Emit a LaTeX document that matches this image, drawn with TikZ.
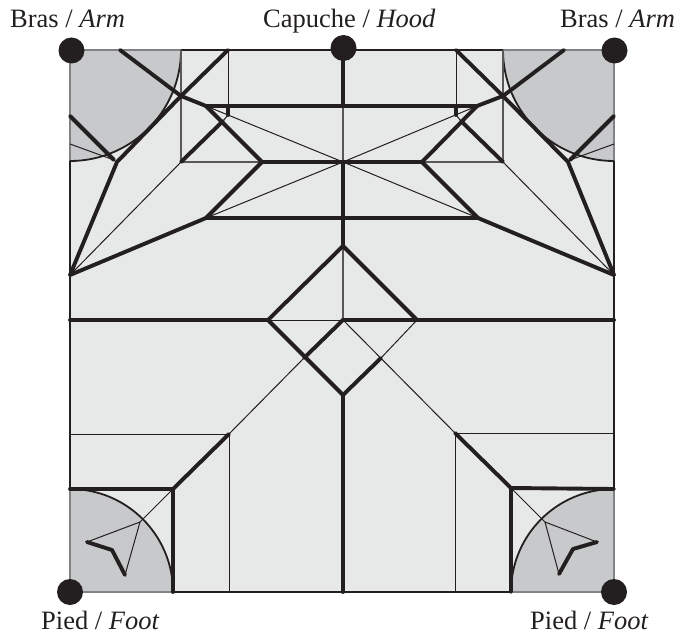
\documentclass[tikz,border=0pt]{standalone}
\usepackage{fontspec}
\setmainfont{Liberation Serif}
\definecolor{inkc}{HTML}{231F20}
\definecolor{paperc}{HTML}{E7E8E8}
\definecolor{cornerc}{HTML}{C8C9CB}
\definecolor{edgec}{HTML}{808285}
\tikzset{
  thickfold/.style={draw=inkc, line width=3.9pt, line cap=round, line join=round},
  thinfold/.style={draw=inkc, line width=1pt},
  greyfold/.style={draw=inkc!75, line width=1.4pt},
  outline/.style={draw=inkc, line width=2.2pt},
  greyedge/.style={draw=edgec, line width=2.4pt},
  cornerarc/.style={draw=inkc, line width=1.8pt},
  pin/.style={circle, fill=inkc, inner sep=0pt, minimum size=26pt},
  caption/.style={inner sep=0pt, anchor=base west, font=\fontsize{26.5}{30}\selectfont, text=inkc},
}
\begin{document}
\begin{tikzpicture}[x=1pt, y=-1pt]
\useasboundingbox (0,0) rectangle (691,634);
\coordinate (vid0) at (70,50);
\coordinate (vid1) at (614,50);
\coordinate (vid2) at (614,592);
\coordinate (vid3) at (70,592);
\coordinate (vid4) at (181,50);
\coordinate (vid5) at (503,50);
\coordinate (vid6) at (70,161);
\coordinate (vid7) at (614,161);
\coordinate (vid8) at (70,489);
\coordinate (vid9) at (173,592);
\coordinate (vid10) at (614,489);
\coordinate (vid11) at (511,592);
\fill[paperc] (vid0) rectangle (vid2);
\fill[cornerc] (vid0) -- (vid4) arc[start angle=0, end angle=90, radius=111] -- cycle;
\fill[cornerc] (vid1) -- (vid5) arc[start angle=180, end angle=90, radius=111] -- cycle;
\fill[cornerc] (vid3) -- (vid9) arc[start angle=0, end angle=-90, radius=103] -- cycle;
\fill[cornerc] (vid2) -- (vid11) arc[start angle=180, end angle=270, radius=103] -- cycle;
\draw[greyedge] (vid6) -- (vid0) -- (vid4);
\draw[greyedge] (vid5) -- (vid1) -- (vid7);
\draw[greyedge] (vid8) -- (vid3) -- (vid9);
\draw[greyedge] (vid11) -- (vid2) -- (vid10);
\draw[outline] (vid4) -- (vid5);
\draw[outline] (vid6) -- (vid8);
\draw[outline] (vid7) -- (vid10);
\draw[outline] (vid9) -- (vid11);
\draw[cornerarc] (vid4) arc[start angle=0, end angle=90, radius=111];
\draw[cornerarc] (vid5) arc[start angle=180, end angle=90, radius=111];
\draw[cornerarc] (vid9) arc[start angle=0, end angle=-90, radius=103];
\draw[cornerarc] (vid11) arc[start angle=180, end angle=270, radius=103];
\coordinate (tid0) at (120,50);
\coordinate (tid1) at (228,50);
\coordinate (tid2) at (181,96);
\coordinate (tid3) at (206,106);
\coordinate (tid4) at (117,162);
\coordinate (tid5) at (70,275);
\coordinate (tid6) at (70,116);
\coordinate (tid7) at (70,144);
\coordinate (tid8) at (114,160);
\coordinate (tid9) at (228,106);
\coordinate (tid10) at (228,115);
\coordinate (tid11) at (181,162);
\coordinate (tid12) at (223,121);
\coordinate (tid13) at (262,162);
\coordinate (tid14) at (206,218);
\draw[thinfold](tid1) -- (tid10);
\draw[greyfold](vid4) -- (tid11);
\draw[greyfold](tid11) -- (tid13);
\draw[thinfold](tid5) -- (tid11);
\draw[thinfold](tid7) -- (tid8);
\draw[thinfold](tid12) -- (tid10);
\draw[thickfold](tid0) -- (tid2) -- (tid3);
\draw[thickfold](tid1) -- (tid2) -- (tid4) -- (tid5);
\draw[thickfold](tid6) -- (tid8);
\draw[thickfold](tid9) -- (tid10);
\draw[thickfold](tid11) -- (tid12);
\draw[thickfold](tid3) -- (tid13) -- (tid14) -- (tid5);
\coordinate (rid0) at (564,50);
\coordinate (rid1) at (456,50);
\coordinate (rid2) at (503,96);
\coordinate (rid3) at (477,106);
\coordinate (rid4) at (568,162);
\coordinate (rid5) at (614,275);
\coordinate (rid6) at (614,116);
\coordinate (rid7) at (614,144);
\coordinate (rid8) at (570,160);
\coordinate (rid9) at (456,106);
\coordinate (rid10) at (456,115);
\coordinate (rid11) at (503,162);
\coordinate (rid12) at (461,121);
\coordinate (rid13) at (422,162);
\coordinate (rid14) at (478,218);
\draw[thinfold](rid1) -- (rid10);
\draw[greyfold](vid5) -- (rid11);
\draw[greyfold](rid11) -- (rid13);
\draw[thinfold](rid5) -- (rid11);
\draw[thinfold](rid7) -- (rid8);
\draw[thinfold](rid12) -- (rid10);
\draw[thickfold](rid0) -- (rid2) -- (rid3);
\draw[thickfold](rid1) -- (rid2) -- (rid4) -- (rid5);
\draw[thickfold](rid6) -- (rid8);
\draw[thickfold](rid9) -- (rid10);
\draw[thickfold](rid11) -- (rid12);
\draw[thickfold](rid3) -- (rid13) -- (rid14) -- (rid5);
\coordinate (cid0) at (343,50);
\coordinate (cid1) at (343,106);
\coordinate (cid2) at (343,162);
\coordinate (cid3) at (343,218);
\coordinate (cid4) at (343,246);
\coordinate (cid5) at (343,320);
\coordinate (cid6) at (343,395);
\coordinate (cid7) at (343,592);
\coordinate (cid8) at (268,320);
\coordinate (cid9) at (417,320);
\coordinate (cid10) at (304,358);
\coordinate (cid11) at (381,358);
\coordinate (lid0) at (70,320);
\coordinate (lid1) at (614,320);
\draw[thinfold](tid3) -- (cid2);
\draw[thinfold](rid3) -- (cid2);
\draw[thinfold](tid14) -- (cid2);
\draw[thinfold](rid14) -- (cid2);
\draw[greyfold](cid1) -- (cid2);
\draw[greyfold](cid4) -- (cid5);
\draw[thinfold](cid8) -- (cid5);
\draw[thinfold](cid11) -- (cid9);
\draw[thickfold](tid3) -- (rid3);
\draw[thickfold](tid13) -- (rid13);
\draw[thickfold](tid14) -- (rid14);
\draw[thickfold](cid0) -- (cid1);
\draw[thickfold](cid2) -- (cid4);
\draw[thickfold](cid6) -- (cid7);
\draw[thickfold](lid0) -- (cid8);
\draw[thickfold](cid5) -- (lid1);
\draw[thickfold](cid8) -- (cid4) -- (cid9);
\draw[thickfold](cid8) -- (cid6) -- (cid11);
\draw[thickfold](cid5) -- (cid10);
\coordinate (bid0) at (229,434);
\coordinate (bid1) at (173,489);
\coordinate (bid2) at (140,522);
\coordinate (bid3) at (87,542);
\coordinate (bid4) at (112,550);
\coordinate (bid5) at (125,575);
\coordinate (bid6) at (70,434);
\coordinate (bid7) at (229,592);
\draw[thinfold](cid10) -- (bid0);
\draw[thinfold](bid6) -- (bid0) -- (bid7);
\draw[thinfold](bid1) -- (bid2);
\draw[thinfold](bid3) -- (bid2) -- (bid5);
\draw[thickfold](bid0) -- (bid1);
\draw[thickfold](vid8) -- (bid1) -- (vid9);
\draw[thickfold](bid3) -- (bid4) -- (bid5);
\coordinate (eid0) at (455,433);
\coordinate (eid1) at (511,488);
\coordinate (eid2) at (545,522);
\coordinate (eid3) at (597,542);
\coordinate (eid4) at (573,549);
\coordinate (eid5) at (559,574);
\coordinate (eid6) at (614,433);
\coordinate (eid7) at (455,592);
\draw[thinfold](cid5) -- (eid0);
\draw[thinfold](eid6) -- (eid0) -- (eid7);
\draw[thinfold](eid1) -- (eid2);
\draw[thinfold](eid3) -- (eid2) -- (eid5);
\draw[thickfold](eid0) -- (eid1);
\draw[thickfold](vid10) -- (eid1) -- (vid11);
\draw[thickfold](eid3) -- (eid4) -- (eid5);
\node[pin] (pin0) at (71.5,50.5){};
\node[pin] (pin1) at (343.5,48){};
\node[pin] (pin2) at (614.5,50.5){};
\node[pin] (pin3) at (70,592){};
\node[pin] (pin4) at (614,592){};
\node[caption] (arml) at (10,28){Bras / \textit{Arm}};
\node[caption] (hood) at (263,28){Capuche / \textit{Hood}};
\node[caption] (armr) at (560,28){Bras / \textit{Arm}};
\node[caption] (footl) at (41,629){Pied / \textit{Foot}};
\node[caption] (footr) at (530,629){Pied / \textit{Foot}};
\end{tikzpicture}
\end{document}
